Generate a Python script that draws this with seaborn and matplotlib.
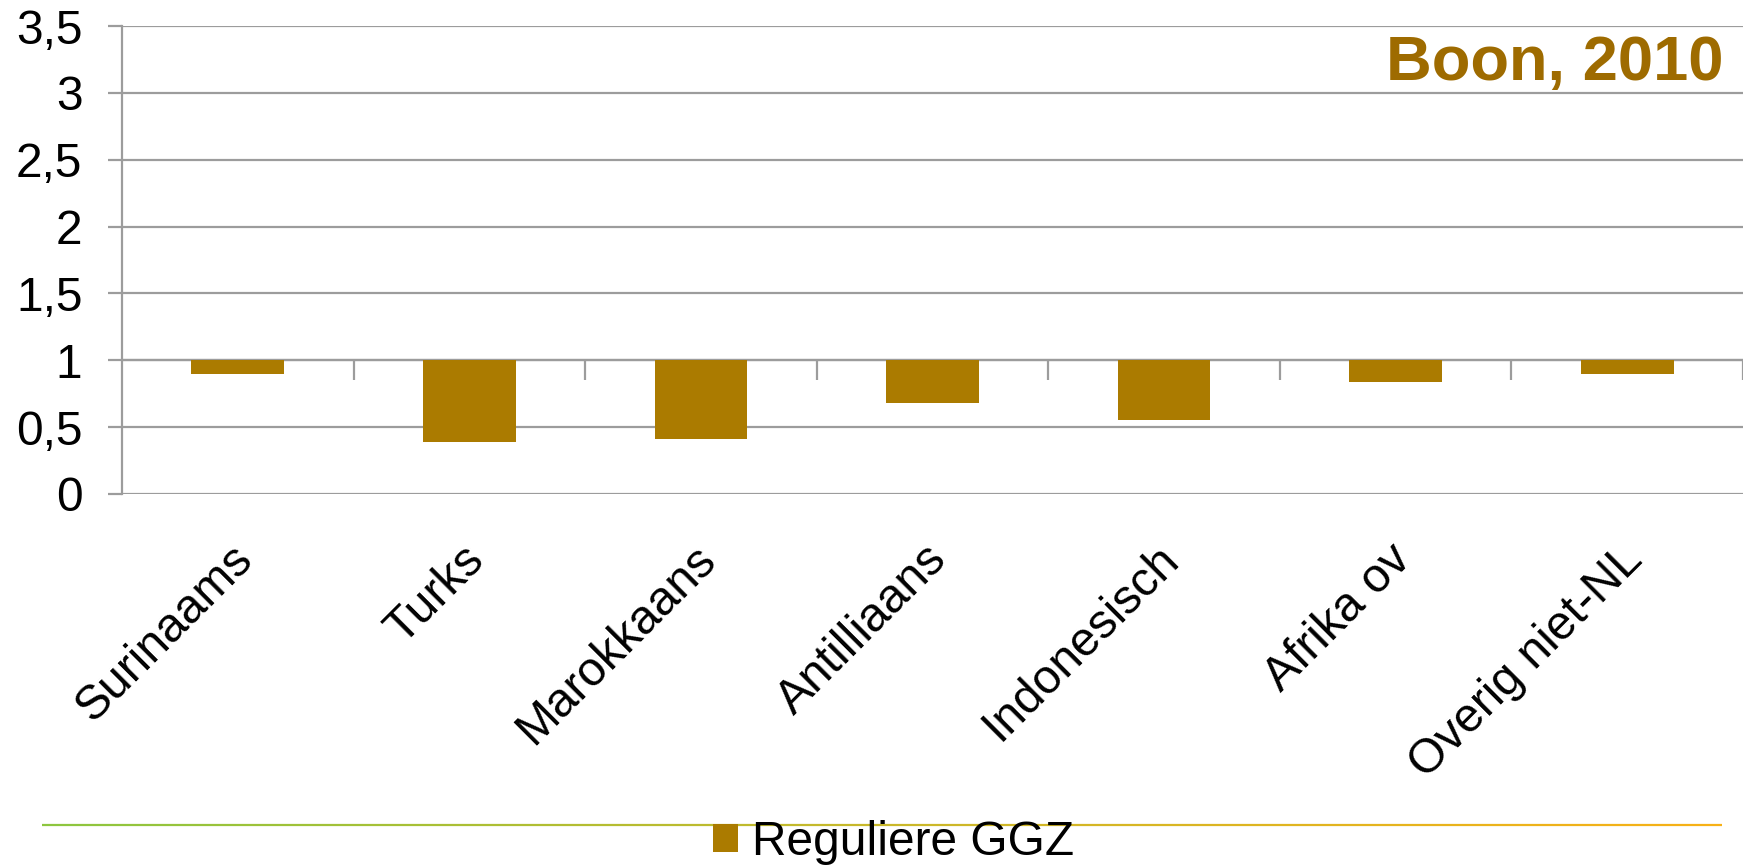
import numpy as np
import pandas as pd
import matplotlib
matplotlib.use("Agg")
import matplotlib.pyplot as plt
import matplotlib.transforms as mtransforms
from matplotlib.collections import LineCollection
from matplotlib.colors import LinearSegmentedColormap
import seaborn as sns

# Data (ratio vs. reference = 1)
categories = ['Surinaams', 'Turks', 'Marokkaans', 'Antilliaans',
              'Indonesisch', 'Afrika ov', 'Overig niet-NL']
values = [0.90, 0.39, 0.41, 0.68, 0.55, 0.84, 0.90]
series_name = 'Reguliere GGZ'
baseline = 1.0  # category axis crosses at 1
y_ticks = [0, 0.5, 1, 1.5, 2, 2.5, 3, 3.5]
y_ticklabels = ['0', '0,5', '1', '1,5', '2', '2,5', '3', '3,5']
title_text = 'Boon, 2010'

BAR_COLOR = '#AB7B00'
TITLE_COLOR = '#9E6B00'
GRID_COLOR = '#9C9C9C'
FS = 34.5

sns.set_style('white')
plt.rcParams['font.family'] = ['Liberation Sans', 'DejaVu Sans']
plt.rcParams['text.color'] = 'black'
plt.rcParams['xtick.color'] = 'black'
plt.rcParams['ytick.color'] = 'black'

df = pd.DataFrame({'group': categories, 'value': values})
df['offset'] = df['value'] - baseline

W, H = 1750, 866
fig = plt.figure(figsize=(W / 100, H / 100), dpi=100)
ax = fig.add_axes([122 / W, 1 - 494 / H, (1743 - 122) / W, (494 - 26) / H])

sns.barplot(data=df, x='group', y='offset', bottom=baseline, color=BAR_COLOR,
            width=0.4, errorbar=None, saturation=1, label=series_name,
            linewidth=0, ax=ax, zorder=3)
if ax.get_legend() is not None:
    ax.get_legend().remove()

ax.set_xlim(-0.5, len(categories) - 0.5)
ax.set_ylim(0, 3.5)
ax.set_yticks(y_ticks)
ax.set_yticklabels(y_ticklabels)
ax.yaxis.grid(True, color=GRID_COLOR, linewidth=1.6, zorder=0)
ax.set_axisbelow(True)
ax.set_xlabel('')
ax.set_ylabel('')

for side in ['top', 'right', 'bottom']:
    ax.spines[side].set_visible(False)
ax.spines['left'].set_color(GRID_COLOR)
ax.spines['left'].set_linewidth(1.6)

ax.tick_params(axis='y', length=10, width=1.6, color=GRID_COLOR, labelcolor='black',
               labelsize=FS, pad=18.5, direction='out', left=True)
ax.tick_params(axis='x', length=0, labelsize=FS, labelcolor='black', pad=30.5)
shift = mtransforms.ScaledTranslation(-8 / 100, 0, fig.dpi_scale_trans)
for lab in ax.get_xticklabels():
    lab.set_rotation(45)
    lab.set_ha('right')
    lab.set_rotation_mode('anchor')
    lab.set_transform(lab.get_transform() + shift)

# category axis at y = 1 with boundary tick marks pointing down
ax.axhline(baseline, color=GRID_COLOR, linewidth=1.6, zorder=2)
bounds = np.arange(len(categories)) + 0.5
ax.vlines(bounds, baseline - 0.15, baseline, color=GRID_COLOR, linewidth=1.6, zorder=2)

fig.text(1723 / W, 1 - 80 / H, title_text, ha='right', va='baseline',
         fontsize=45.5, fontweight='bold', color=TITLE_COLOR)

# decorative gradient rule near the bottom (green -> orange)
cmap = LinearSegmentedColormap.from_list('rule', ['#8DC63F', '#C9B82A', '#F7B116'])
xs = np.linspace(42 / W, 1722 / W, 200)
ry = 1 - 825 / H
segs = [[(xs[i], ry), (xs[i + 1], ry)] for i in range(len(xs) - 1)]
lc = LineCollection(segs, colors=cmap(np.linspace(0, 1, len(segs))),
                    linewidths=1.6, transform=fig.transFigure, zorder=1)
fig.add_artist(lc)

handles, labels = ax.get_legend_handles_labels()
fig.legend(handles, labels, loc='upper left', bbox_to_anchor=(713 / W, 1 - 820 / H),
           frameon=False, fontsize=FS, handlelength=0.53, handleheight=0.53,
           handletextpad=0.28, borderpad=0, borderaxespad=0)

fig.savefig('out.png', dpi=100, facecolor='white')
